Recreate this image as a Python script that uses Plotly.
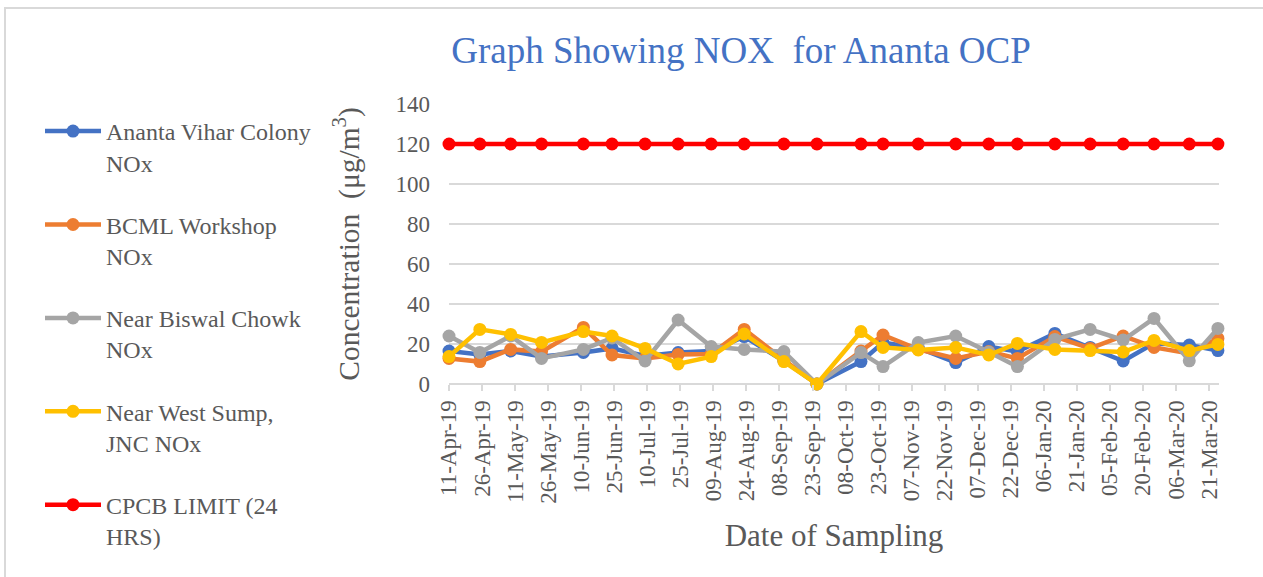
import plotly.graph_objects as go

dates = ["2019-04-11", "2019-04-25", "2019-05-09", "2019-05-23", "2019-06-11", "2019-06-24",
         "2019-07-09", "2019-07-24", "2019-08-08", "2019-08-23", "2019-09-10", "2019-09-25",
         "2019-10-15", "2019-10-25", "2019-11-10", "2019-11-27", "2019-12-12", "2019-12-25",
         "2020-01-11", "2020-01-27", "2020-02-11", "2020-02-25", "2020-03-12", "2020-03-25"]

ananta_vihar = [16.5, 14.8, 16.5, 13.7, 15.8, 17.8, 14.0, 15.7, 16.5, 23.7, 11.5, 0,
                11.2, 20.7, 18.0, 10.7, 18.7, 16.2, 25.3, 18.3, 11.5, 20.3, 19.5, 16.7]
bcml_workshop = [12.8, 11.2, 17.3, 16.2, 28.3, 14.5, 12.8, 14.8, 15.0, 27.3, 12.0, 0,
                 16.5, 24.5, 17.3, 12.8, 16.2, 12.8, 23.7, 17.8, 24.0, 18.3, 15.3, 22.8]
biswal_chowk = [24.0, 15.8, 24.0, 12.8, 17.3, 23.0, 11.5, 32.0, 18.7, 17.3, 16.2, 0,
                15.7, 8.7, 20.7, 24.0, 16.0, 8.7, 22.3, 27.3, 22.0, 32.8, 11.6, 27.8]
west_sump = [13.7, 27.3, 24.8, 20.8, 26.2, 24.0, 17.8, 10.0, 13.7, 25.0, 11.2, 0,
             26.2, 18.3, 17.0, 18.3, 14.5, 20.3, 17.3, 16.7, 16.0, 21.8, 16.7, 19.8]
cpcb_limit = [120] * 24

series_names = ["Ananta Vihar Colony<br>NOx", "BCML Workshop<br>NOx",
                "Near Biswal Chowk<br>NOx", "Near West Sump,<br>JNC NOx",
                "CPCB LIMIT (24<br>HRS)"]
series_values = [ananta_vihar, bcml_workshop, biswal_chowk, west_sump, cpcb_limit]
series_colors = ["#4472C4", "#ED7D31", "#A5A5A5", "#FFC000", "#FF0000"]

FONT = "Liberation Serif"
TXT = "#595959"

fig = go.Figure()
for i, (name, vals, col) in enumerate(zip(series_names, series_values, series_colors)):
    fig.add_trace(go.Scatter(
        x=dates, y=vals, name=name, mode="lines+markers",
        line=dict(color=col, width=4.5),
        marker=dict(color=col, size=13),
        cliponaxis=False, legendgroup=f"g{i}",
    ))

W, H = 1263, 577
L, R, T, B = 449, 44, 104, 193
pw, ph = W - L - R, H - T - B

def px(x):
    return (x - L) / pw

def py(y):
    return (H - B - y) / ph

fig.update_layout(
    width=W, height=H,
    margin=dict(l=L, r=R, t=T, b=B, autoexpand=False),
    paper_bgcolor="white", plot_bgcolor="white",
    font=dict(family=FONT, color=TXT, size=23),
    title=dict(text="Graph Showing NOX\u00a0 for Ananta OCP",
               font=dict(family=FONT, color="#4472C4", size=37),
               x=741 / W, xanchor="center", y=1 - 50 / H, yanchor="middle"),
    legend=dict(xref="container", yref="container",
                x=40 / W, xanchor="left", y=1 - 109 / H, yanchor="top",
                font=dict(family=FONT, color=TXT, size=24),
                traceorder="grouped", tracegroupgap=28, valign="top",
                itemwidth=56, bgcolor="rgba(0,0,0,0)", maxheight=1),
    xaxis=dict(
        type="date",
        range=["2019-04-11", "2020-03-25 12:00"],
        tick0="2019-04-11", dtick=15 * 86400000,
        tickformat="%d-%b-%y", tickangle=-90,
        showgrid=False, zeroline=False,
        showline=False,
        ticks="outside", ticklen=6, tickcolor="#D9D9D9", tickwidth=1.5,
        tickfont=dict(family=FONT, color=TXT, size=23),
        title=dict(text="Date of Sampling", font=dict(family=FONT, color=TXT, size=31),
                   standoff=21),
    ),
    yaxis=dict(
        range=[0, 140], dtick=20,
        showgrid=True, gridcolor="#D9D9D9", gridwidth=1.5,
        zeroline=True, zerolinecolor="#D9D9D9", zerolinewidth=1.5,
        showline=False, ticks="", ticklabelstandoff=18,
        tickfont=dict(family=FONT, color=TXT, size=23),
        title=dict(text="Concentration\u00a0 (μg/m<sup>3</sup>)",
                   font=dict(family=FONT, color=TXT, size=29.5), standoff=27),
    ),
    shapes=[dict(type="rect", xref="paper", yref="paper",
                 x0=px(5), x1=px(1275), y0=py(600), y1=py(8),
                 line=dict(color="#D9D9D9", width=2), layer="below")],
)

fig.write_html("out.html", config={"displayModeBar": False},
               post_script="document.body.style.margin='0';document.body.style.overflow='hidden';")
